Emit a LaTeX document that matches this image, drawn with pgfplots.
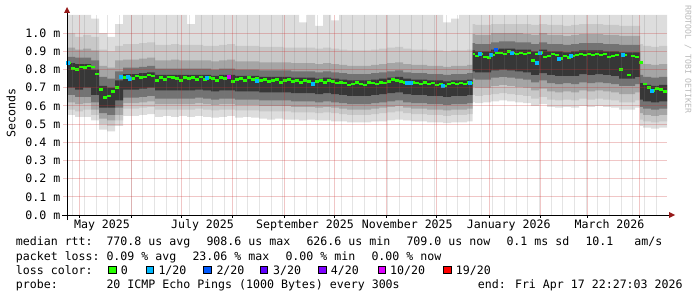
\documentclass[border=0pt]{standalone}
\usepackage{fontspec}
\usepackage{pgfplots}
\usepackage{pgfplotstable}
\pgfplotsset{compat=1.18}
\usepgfplotslibrary{fillbetween}
\newfontfamily\dvm{DejaVu Sans Mono}
\newcommand\legfont{\dvm\fontsize{11.64pt}{13pt}\selectfont}
\newcommand\tinyfont{\dvm\fontsize{8.2pt}{9pt}\selectfont}
\definecolor{lc0}{HTML}{26FF00}
\definecolor{lc1}{HTML}{00B8FF}
\definecolor{lc2}{HTML}{0059FF}
\definecolor{lc3}{HTML}{5E00FF}
\definecolor{lc4}{HTML}{7E00FF}
\definecolor{lc10}{HTML}{DD00FF}
\definecolor{lc19}{HTML}{FF0000}
\definecolor{mgrid}{RGB}{200,50,50}
\definecolor{mingrid}{RGB}{120,120,120}
\definecolor{arrowc}{RGB}{150,25,25}
\definecolor{wm}{RGB}{185,185,185}
\definecolor{s1}{RGB}{221,221,221}
\definecolor{s2}{RGB}{200,200,200}
\definecolor{s3}{RGB}{165,165,165}
\definecolor{s4}{RGB}{115,115,115}
\definecolor{s5}{RGB}{55,55,55}

\pgfplotstableread{
x L1 L2 L3 L4 L5 U5 U4 U3 U2 U1
0 0.55 0.58 0.62 0.66 0.70 0.835 0.87 0.92 1.00 1.10
4.8 0.54 0.57 0.61 0.65 0.69 0.83 0.865 0.91 0.98 1.10
9.6 0.54 0.58 0.615 0.65 0.70 0.83 0.865 0.915 0.99 1.10
14.4 0.52 0.55 0.58 0.62 0.66 0.80 0.85 0.905 0.98 1.08
19.2 0.47 0.50 0.53 0.56 0.59 0.71 0.76 0.82 0.91 1.00
24 0.46 0.49 0.52 0.55 0.59 0.70 0.75 0.81 0.90 0.98
28.8 0.49 0.52 0.55 0.59 0.63 0.74 0.79 0.85 0.93 1.05
33.6 0.545 0.585 0.615 0.645 0.69 0.775 0.81 0.855 0.94 1.10
38.4 0.545 0.585 0.615 0.645 0.69 0.775 0.81 0.855 0.94 1.10
43.2 0.55 0.59 0.62 0.65 0.695 0.78 0.815 0.86 0.945 1.10
48 0.555 0.595 0.625 0.655 0.70 0.785 0.82 0.865 0.95 1.10
52.8 0.54 0.58 0.61 0.64 0.685 0.77 0.805 0.85 0.935 1.10
57.6 0.545 0.58 0.61 0.64 0.685 0.77 0.805 0.85 0.935 1.10
62.4 0.54 0.58 0.61 0.64 0.685 0.77 0.805 0.855 0.94 1.10
67.2 0.545 0.58 0.61 0.64 0.685 0.77 0.805 0.85 0.935 1.10
72 0.54 0.58 0.61 0.64 0.685 0.77 0.805 0.85 0.935 1.05
76.8 0.545 0.585 0.615 0.645 0.69 0.77 0.805 0.85 0.935 1.10
81.6 0.54 0.58 0.61 0.64 0.685 0.77 0.805 0.85 0.93 1.10
86.4 0.535 0.575 0.605 0.635 0.68 0.765 0.80 0.845 0.93 1.10
91.2 0.54 0.58 0.61 0.64 0.685 0.77 0.805 0.85 0.935 1.10
96 0.545 0.58 0.61 0.64 0.685 0.77 0.805 0.855 0.94 1.10
100.8 0.535 0.575 0.605 0.635 0.68 0.765 0.80 0.845 0.93 1.10
105.6 0.54 0.575 0.605 0.635 0.68 0.765 0.80 0.845 0.93 1.10
110.4 0.535 0.575 0.605 0.635 0.68 0.765 0.80 0.845 0.93 1.10
115.2 0.53 0.57 0.60 0.63 0.675 0.76 0.795 0.84 0.925 1.10
120 0.525 0.57 0.60 0.63 0.675 0.76 0.795 0.84 0.925 1.10
124.8 0.53 0.57 0.60 0.63 0.675 0.76 0.795 0.84 0.925 1.10
129.6 0.525 0.57 0.60 0.63 0.675 0.76 0.795 0.84 0.92 1.10
134.4 0.525 0.565 0.595 0.625 0.67 0.755 0.79 0.835 0.92 1.10
139.2 0.52 0.565 0.595 0.625 0.67 0.755 0.79 0.835 0.92 1.06
144 0.525 0.565 0.595 0.625 0.67 0.755 0.79 0.835 0.92 1.10
148.8 0.52 0.56 0.59 0.62 0.665 0.75 0.785 0.83 0.915 1.04
153.6 0.52 0.565 0.595 0.625 0.67 0.755 0.79 0.835 0.92 1.10
158.4 0.515 0.56 0.59 0.62 0.665 0.75 0.785 0.83 0.915 1.07
163.2 0.515 0.555 0.585 0.615 0.66 0.745 0.78 0.825 0.91 1.10
168 0.51 0.55 0.58 0.61 0.655 0.74 0.775 0.82 0.905 1.10
172.8 0.51 0.55 0.58 0.61 0.655 0.74 0.775 0.82 0.905 1.10
177.6 0.51 0.55 0.58 0.61 0.655 0.74 0.775 0.82 0.905 1.10
182.4 0.515 0.555 0.585 0.615 0.66 0.745 0.78 0.825 0.91 1.10
187.2 0.515 0.56 0.59 0.62 0.665 0.75 0.785 0.83 0.915 1.10
192 0.52 0.565 0.595 0.625 0.67 0.755 0.79 0.835 0.92 1.10
196.8 0.525 0.57 0.60 0.63 0.675 0.76 0.795 0.84 0.925 1.10
201.6 0.52 0.56 0.59 0.62 0.665 0.75 0.785 0.83 0.915 1.10
206.4 0.515 0.555 0.585 0.615 0.66 0.745 0.78 0.825 0.91 1.10
211.2 0.515 0.555 0.585 0.615 0.66 0.745 0.78 0.825 0.91 1.10
216 0.51 0.55 0.58 0.61 0.655 0.74 0.775 0.82 0.905 1.10
220.8 0.51 0.55 0.58 0.61 0.655 0.74 0.775 0.82 0.905 1.10
225.6 0.505 0.545 0.575 0.605 0.65 0.735 0.77 0.815 0.90 1.06
230.4 0.51 0.55 0.58 0.61 0.655 0.74 0.775 0.82 0.905 1.08
235.2 0.51 0.55 0.58 0.61 0.655 0.74 0.775 0.82 0.905 1.10
240 0.515 0.555 0.585 0.615 0.66 0.745 0.78 0.825 0.91 1.10
243.3 0.62 0.66 0.705 0.75 0.79 0.905 0.945 0.995 1.05 1.10
244.8 0.615 0.655 0.70 0.745 0.785 0.90 0.94 0.99 1.045 1.10
249.6 0.62 0.66 0.70 0.745 0.785 0.90 0.94 0.99 1.045 1.10
254.4 0.625 0.665 0.71 0.755 0.795 0.91 0.95 1.00 1.05 1.10
259.2 0.63 0.67 0.715 0.76 0.80 0.915 0.955 1.00 1.05 1.10
264 0.625 0.665 0.71 0.755 0.795 0.915 0.955 1.00 1.05 1.10
268.8 0.62 0.66 0.705 0.75 0.79 0.91 0.95 1.00 1.05 1.10
273.6 0.615 0.655 0.70 0.745 0.785 0.91 0.95 0.995 1.05 1.10
278.4 0.60 0.64 0.685 0.73 0.77 0.90 0.94 0.99 1.045 1.10
283.2 0.61 0.65 0.695 0.74 0.78 0.91 0.95 1.00 1.05 1.10
288 0.595 0.635 0.68 0.725 0.77 0.90 0.94 0.99 1.045 1.10
292.8 0.59 0.63 0.675 0.72 0.765 0.90 0.94 0.99 1.045 1.10
297.6 0.595 0.635 0.68 0.725 0.765 0.895 0.935 0.985 1.04 1.10
302.4 0.59 0.63 0.675 0.72 0.765 0.90 0.94 0.99 1.045 1.10
307.2 0.60 0.64 0.685 0.73 0.775 0.905 0.945 0.995 1.05 1.10
312 0.595 0.635 0.68 0.725 0.77 0.905 0.945 0.995 1.05 1.10
316.8 0.60 0.64 0.685 0.73 0.775 0.905 0.945 0.995 1.05 1.10
321.6 0.595 0.635 0.68 0.725 0.77 0.90 0.94 0.99 1.045 1.10
326.4 0.59 0.63 0.675 0.72 0.765 0.90 0.94 0.99 1.045 1.10
331.2 0.58 0.62 0.665 0.71 0.75 0.895 0.935 0.985 1.04 1.10
336 0.58 0.62 0.665 0.71 0.75 0.895 0.935 0.985 1.04 1.10
340.8 0.59 0.63 0.675 0.72 0.76 0.895 0.935 0.985 1.04 1.10
343.8 0.49 0.525 0.56 0.595 0.635 0.725 0.77 0.84 0.94 1.10
345.6 0.48 0.515 0.55 0.585 0.625 0.715 0.76 0.83 0.93 1.10
350.4 0.475 0.51 0.545 0.58 0.62 0.71 0.755 0.825 0.925 1.10
355.2 0.48 0.515 0.55 0.585 0.625 0.715 0.76 0.83 0.93 1.10
360 0.48 0.515 0.55 0.585 0.625 0.715 0.76 0.83 0.93 1.10
}\smoke

\pgfplotstableread{
x m
0 0.835
2.4 0.805
4.8 0.80
7.2 0.815
9.6 0.81
12 0.82
14.4 0.815
16.8 0.775
19.2 0.69
21.6 0.645
24 0.655
26.4 0.68
28.8 0.70
31.2 0.755
33.6 0.755
36 0.76
38.4 0.75
40.8 0.765
43.2 0.755
45.6 0.76
48 0.77
50.4 0.765
52.8 0.74
55.2 0.755
57.6 0.745
60 0.76
62.4 0.755
64.8 0.75
67.2 0.74
69.6 0.755
72 0.75
74.4 0.755
76.8 0.745
79.2 0.76
81.6 0.745
84 0.755
86.4 0.75
88.8 0.74
91.2 0.755
93.6 0.75
96 0.76
98.4 0.735
100.8 0.745
103.2 0.75
105.6 0.74
108 0.755
110.4 0.745
112.8 0.75
115.2 0.74
117.6 0.745
120 0.735
122.4 0.74
124.8 0.745
127.2 0.73
129.6 0.74
132 0.745
134.4 0.735
136.8 0.74
139.2 0.73
141.6 0.74
144 0.735
146.4 0.72
148.8 0.735
151.2 0.74
153.6 0.73
156 0.74
158.4 0.735
160.8 0.725
163.2 0.73
165.6 0.725
168 0.715
170.4 0.72
172.8 0.73
175.2 0.72
177.6 0.715
180 0.73
182.4 0.725
184.8 0.72
187.2 0.73
189.6 0.725
192 0.735
194.4 0.745
196.8 0.74
199.2 0.735
201.6 0.73
204 0.725
206.4 0.73
208.8 0.725
211.2 0.72
213.6 0.73
216 0.72
218.4 0.725
220.8 0.715
223.2 0.72
225.6 0.71
228 0.72
230.4 0.725
232.8 0.72
235.2 0.725
237.6 0.72
240 0.73
242.4 0.725
243.3 0.885
244.8 0.875
247.2 0.885
249.6 0.87
252 0.865
254.4 0.88
256.8 0.89
259.2 0.89
261.6 0.885
264 0.90
266.4 0.89
268.8 0.885
271.2 0.89
273.6 0.885
276 0.89
278.4 0.85
280.8 0.885
283.2 0.895
285.6 0.87
288 0.875
290.4 0.885
292.8 0.88
295.2 0.86
297.6 0.875
300 0.865
302.4 0.875
304.8 0.88
307.2 0.885
309.6 0.88
312 0.885
314.4 0.88
316.8 0.885
319.2 0.88
321.6 0.885
324 0.87
326.4 0.875
328.8 0.88
331.2 0.80
333.6 0.88
336 0.77
338.4 0.875
340.8 0.87
343.2 0.84
345.6 0.72
348 0.70
350.4 0.685
352.8 0.695
355.2 0.69
357.6 0.68
360 0.68
}\median

\pgfplotstableread{
x y
0.6 0.84
32.4 0.76
36.3 0.76
37.5 0.75
83.8 0.755
113.8 0.74
147.6 0.72
204 0.725
206.4 0.73
225.4 0.71
241.4 0.725
247.8 0.885
254.2 0.88
266.8 0.89
281.8 0.84
283.8 0.895
294.8 0.86
302.2 0.875
333.4 0.88
351 0.685
}\lossone

\pgfplotstableread{
x y
257.4 0.91
}\losstwo

\pgfplotstableread{
x y
96.8 0.76
}\lossten

\begin{document}
\begin{tikzpicture}[x=1bp,y=1bp,
  leg/.style={anchor=base west, inner sep=0pt, font=\legfont},
  mg/.style={draw=mgrid, draw opacity=0.28, line width=1bp},
  ng/.style={draw=mingrid, draw opacity=0.2, line width=1bp}]
\begin{axis}[
  at={(67bp,82bp)}, anchor=south west,
  scale only axis, width=600bp, height=200bp,
  xmin=0, xmax=360, ymin=0, ymax=1.1,
  enlargelimits=false,
  axis line style={draw=none},
  major tick length=0bp, minor tick length=0bp,
  xtick=\empty,
  ytick={0,0.1,0.2,0.3,0.4,0.5,0.6,0.7,0.8,0.9,1.0},
  yticklabels={0.0 m,0.1 m,0.2 m,0.3 m,0.4 m,0.5 m,0.6 m,0.7 m,0.8 m,0.9 m,1.0 m},
  tick label style={font=\legfont},
  yticklabel style={anchor=east, inner sep=0pt, xshift=-6.5bp},
]
\addplot[draw=none, const plot, name path=L1] table[x=x,y=L1]{\smoke};
\addplot[draw=none, const plot, name path=L2] table[x=x,y=L2]{\smoke};
\addplot[draw=none, const plot, name path=L3] table[x=x,y=L3]{\smoke};
\addplot[draw=none, const plot, name path=L4] table[x=x,y=L4]{\smoke};
\addplot[draw=none, const plot, name path=L5] table[x=x,y=L5]{\smoke};
\addplot[draw=none, const plot, name path=U5] table[x=x,y=U5]{\smoke};
\addplot[draw=none, const plot, name path=U4] table[x=x,y=U4]{\smoke};
\addplot[draw=none, const plot, name path=U3] table[x=x,y=U3]{\smoke};
\addplot[draw=none, const plot, name path=U2] table[x=x,y=U2]{\smoke};
\addplot[draw=none, const plot, name path=U1] table[x=x,y=U1]{\smoke};
\addplot[s1] fill between[of=U1 and L1];
\addplot[s2] fill between[of=U2 and L2];
\addplot[s3] fill between[of=U3 and L3];
\addplot[s4] fill between[of=U4 and L4];
\addplot[s5] fill between[of=U5 and L5];
\addplot[lc0, line width=2.5bp, jump mark left] table[x=x,y=m]{\median};
\addplot[only marks, mark=square*, mark size=1.5bp, color=lc1, mark options={draw=none}] table[x=x,y=y]{\lossone};
\addplot[only marks, mark=square*, mark size=1.5bp, color=lc2, mark options={draw=none}] table[x=x,y=y]{\losstwo};
\addplot[only marks, mark=square*, mark size=1.5bp, color=lc10, mark options={draw=none}] table[x=x,y=y]{\lossten};
\end{axis}
% grid (weekly minor, monthly major, 0.1 ms horizontal)
\foreach \k in {0,...,50} {
  \pgfmathsetmacro\gx{floor(72.8+11.6667*\k)+0.5}
  \draw[ng] (\gx,82) -- (\gx,282);
}
\foreach \gx in {79.5,131.5,181.5,232.5,284.5,334.5,386.5,436.5,489.5,540.5,587.5,639.5}
  \draw[mg] (\gx,82) -- (\gx,282);
\foreach \gy in {100.5,118.5,136.5,154.5,172.5,191.5,209.5,227.5,245.5,263.5}
  \draw[mg] (63,\gy) -- (667,\gy);
% axes and arrows
\draw[black, line width=1bp] (62,82) -- (670,82);
\fill[arrowc] (669,79) -- (675,82) -- (669,85) -- cycle;
\draw[black, line width=1bp] (67,77) -- (67,285);
\fill[arrowc] (64,284) -- (67,290) -- (70,284) -- cycle;
\foreach \mx in {79.5,131.5,181.5,232.5,284.5,334.5,386.5,436.5,489.5,540.5,587.5,639.5}
  \draw[black, line width=1bp] (\mx,82) -- (\mx,79);
% month labels
\node[font=\legfont, anchor=base, inner sep=0pt] at (102,69) {May 2025};
\node[font=\legfont, anchor=base, inner sep=0pt] at (202.5,69) {July 2025};
\node[font=\legfont, anchor=base, inner sep=0pt] at (305,69) {September 2025};
\node[font=\legfont, anchor=base, inner sep=0pt] at (407.3,69) {November 2025};
\node[font=\legfont, anchor=base, inner sep=0pt] at (508.7,69) {January 2026};
\node[font=\legfont, anchor=base, inner sep=0pt] at (609.5,69) {March 2026};
% axis titles
\node[rotate=90, font=\legfont, inner sep=0pt] at (11,184) {Seconds};
\node[rotate=-90, anchor=west, font=\tinyfont, text=wm, inner sep=0pt] at (688,292) {RRDTOOL / TOBI OETIKER};
% legend line 1
\node[leg] at (15.7,51.6) {median rtt:};
\node[leg] at (106.3,51.6) {770.8 us avg};
\node[leg] at (206.3,51.6) {908.6 us max};
\node[leg] at (306.3,51.6) {626.6 us min};
\node[leg] at (406.3,51.6) {709.0 us now};
\node[leg] at (506.3,51.6) {0.1 ms sd};
\node[leg] at (585.3,51.6) {10.1\ \ \ am/s};
% line 2
\node[leg] at (15.7,37) {packet loss:};
\node[leg] at (106.3,37) {0.09 \% avg};
\node[leg] at (192.3,37) {23.06 \% max};
\node[leg] at (285.3,37) {0.00 \% min};
\node[leg] at (371.3,37) {0.00 \% now};
% line 3
\node[leg] at (15.7,22.6) {loss color:};
\filldraw[fill=lc0, draw=black, line width=0.8bp] (108.7,23.9) rectangle (115.9,31.1);
\node[leg] at (120.7,22.6) {0};
\filldraw[fill=lc1, draw=black, line width=0.8bp] (146.1,23.9) rectangle (153.3,31.1);
\node[leg] at (158.3,22.6) {1/20};
\filldraw[fill=lc2, draw=black, line width=0.8bp] (203.7,23.9) rectangle (210.9,31.1);
\node[leg] at (216.3,22.6) {2/20};
\filldraw[fill=lc3, draw=black, line width=0.8bp] (260.4,23.9) rectangle (267.6,31.1);
\node[leg] at (273,22.6) {3/20};
\filldraw[fill=lc4, draw=black, line width=0.8bp] (318.7,23.9) rectangle (325.9,31.1);
\node[leg] at (330.7,22.6) {4/20};
\filldraw[fill=lc10, draw=black, line width=0.8bp] (378.1,23.9) rectangle (385.3,31.1);
\node[leg] at (390,22.6) {10/20};
\filldraw[fill=lc19, draw=black, line width=0.8bp] (443.7,23.9) rectangle (450.9,31.1);
\node[leg] at (455.7,22.6) {19/20};
% line 4
\node[leg] at (15.7,8.3) {probe:};
\node[leg] at (106.3,8.3) {20 ICMP Echo Pings (1000 Bytes) every 300s};
\node[leg] at (477.6,8.3) {end: Fri Apr 17 22:27:03 2026};
\pgfresetboundingbox
\path[use as bounding box] (0,0) rectangle (697,297);
\end{tikzpicture}
\end{document}
